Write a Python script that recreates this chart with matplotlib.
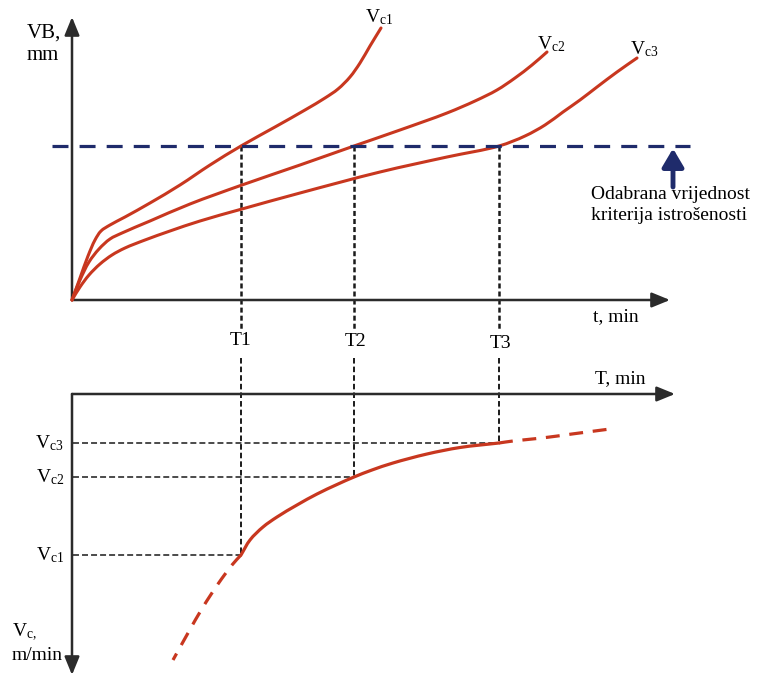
import matplotlib
matplotlib.use('Agg')
import matplotlib.pyplot as plt
import numpy as np
from matplotlib.path import Path
from matplotlib.patches import PathPatch

plt.rcParams['font.family'] = ['Liberation Serif', 'DejaVu Serif']
plt.rcParams['mathtext.fontset'] = 'custom'
plt.rcParams['mathtext.rm'] = 'Liberation Serif'
plt.rcParams['mathtext.it'] = 'Liberation Serif:italic'
plt.rcParams['lines.scale_dashes'] = False

# ---------------- data ----------------
# top: tool wear VB (mm) vs time t (min) for three cutting speeds
vc1_t = [0, 0.8, 1.6, 2.3, 2.9, 3.8, 5.3, 7.8, 10.8, 13.8, 16.9, 20.3, 23.3,
         25.3, 26.6, 27.8, 28.8, 29.8, 30.9]
vc1_vb = [0, 0.044, 0.088, 0.12, 0.138, 0.15, 0.166, 0.194, 0.23, 0.27, 0.308,
          0.346, 0.38, 0.404, 0.422, 0.446, 0.474, 0.508, 0.544]
vc2_t = [0, 0.8, 1.7, 2.7, 3.8, 5.0, 7.8, 11.8, 17.0, 22.8, 28.2, 32.8, 37.5,
         40.3, 42.5, 44.3, 46.0, 47.5]
vc2_vb = [0, 0.04, 0.076, 0.102, 0.122, 0.134, 0.158, 0.192, 0.23, 0.27, 0.308,
          0.34, 0.374, 0.398, 0.42, 0.444, 0.47, 0.496]
vc3_t = [0, 0.8, 1.7, 2.8, 4.0, 5.3, 7.3, 9.8, 12.8, 17.0, 22.8, 30.8, 37.5,
         42.7, 45.3, 47.3, 49.1, 50.8, 52.5, 54.5, 56.5]
vc3_vb = [0, 0.026, 0.05, 0.072, 0.09, 0.104, 0.12, 0.138, 0.158, 0.182, 0.214,
          0.256, 0.286, 0.308, 0.328, 0.35, 0.376, 0.4, 0.426, 0.456, 0.484]
curve_labels = [r'$\mathrm{V}_{\mathrm{c1}}$', r'$\mathrm{V}_{\mathrm{c2}}$',
                r'$\mathrm{V}_{\mathrm{c3}}$']

VB_crit = 0.308                 # chosen wear criterion
T_life = [16.9, 28.2, 42.7]     # T1, T2, T3
T_labels = ['T1', 'T2', 'T3']
Vc_vals = [161, 83, 49]         # Vc1, Vc2, Vc3

# bottom: Vc vs T
life_T = [16.9, 17.8, 19.1, 20.5, 22.5, 24.5, 26.5, 28.2, 30.0, 32.1, 35.5,
          38.8, 42.7]
life_Vc = [161, 146, 133, 123, 111, 100, 90.5, 83, 76, 69, 60, 53.5, 49]
ext_hi_T = [42.7, 44.1, 47.0, 50.0, 53.8]
ext_hi_Vc = [49, 47, 44, 40, 35]
ext_lo_T = [16.9, 16.0, 14.6, 13.1, 11.6, 10.1]
ext_lo_Vc = [161, 171, 190, 213, 239, 266]

# ---------------- styles ----------------
RED = '#c8371f'
BLUE = '#1f2b6b'
AX = '#2b2b2b'
W, H = 764, 677
FS = 14

fig = plt.figure(figsize=(W / 100, H / 100), dpi=100)


def fx(px):
    return px / W


def fy(py):
    return 1 - py / H


def smooth_path(ax, xs, ys, alpha=0.5):
    """Centripetal Catmull-Rom curve through the data points (built in
    display space, returned as a Bezier path in data coordinates)."""
    p = ax.transData.transform(np.column_stack([xs, ys]).astype(float))
    ext = np.vstack([2 * p[0] - p[1], p, 2 * p[-1] - p[-2]])
    verts = [p[0]]
    codes = [Path.MOVETO]
    for i in range(1, len(ext) - 2):
        p0, p1, p2, p3 = ext[i - 1], ext[i], ext[i + 1], ext[i + 2]
        d1 = max(np.hypot(*(p1 - p0)), 1e-6) ** alpha
        d2 = max(np.hypot(*(p2 - p1)), 1e-6) ** alpha
        d3 = max(np.hypot(*(p3 - p2)), 1e-6) ** alpha
        b1 = (d1 ** 2 * p2 - d2 ** 2 * p0 +
              (2 * d1 ** 2 + 3 * d1 * d2 + d2 ** 2) * p1) / (3 * d1 * (d1 + d2))
        b2 = (d3 ** 2 * p1 - d2 ** 2 * p3 +
              (2 * d3 ** 2 + 3 * d3 * d2 + d2 ** 2) * p2) / (3 * d3 * (d3 + d2))
        verts += [b1, b2, p2]
        codes += [Path.CURVE4] * 3
    back = ax.transData.inverted().transform(np.array(verts))
    return Path(back, codes)


def draw_curve(ax, xs, ys, dashes=None, lw=2.3):
    patch = PathPatch(smooth_path(ax, xs, ys), fill=False, edgecolor=RED,
                      lw=lw, capstyle='round', joinstyle='round', zorder=3,
                      clip_on=False)
    if dashes is not None:
        patch.set_linestyle((0, dashes))
        patch.set_capstyle('butt')
    ax.add_patch(patch)


axis_arrow = dict(arrowstyle='-|>,head_length=1.1,head_width=0.45', color=AX,
                  lw=1.8, shrinkA=0, shrinkB=0, mutation_scale=10)

# ---------------- top panel ----------------
ax1 = fig.add_axes([fx(72), fy(300), (670 - 72) / W, (300 - 17) / H])
ax1.set_xlim(0, 59.8)
ax1.set_ylim(0, 0.566)
ax1.axis('off')

ax1.annotate('', xy=(1, 0), xytext=(0, 0), xycoords='axes fraction',
             textcoords='axes fraction', arrowprops=axis_arrow)
ax1.annotate('', xy=(0, 1), xytext=(0, 0), xycoords='axes fraction',
             textcoords='axes fraction', arrowprops=axis_arrow)

for tt, vv in [(vc1_t, vc1_vb), (vc2_t, vc2_vb), (vc3_t, vc3_vb)]:
    draw_curve(ax1, tt, vv, lw=2.2)

ax1.plot([-2, 61.8], [VB_crit, VB_crit], color=BLUE, lw=2.3,
         dashes=(11.5, 8), clip_on=False, zorder=4)
for T in T_life:
    ax1.plot([T, T], [VB_crit, -0.06], color='#1a1a1a', lw=1.8,
             dashes=(3.6, 2.2), clip_on=False, zorder=2)

ax1.annotate('', xy=(60.1, 0.303), xytext=(60.1, 0.226),
             arrowprops=dict(arrowstyle='-|>,head_length=1.1,head_width=0.65',
                             color=BLUE, lw=3.5, shrinkA=0, shrinkB=0,
                             mutation_scale=10), annotation_clip=False)

# curve labels
for lab, (px, py) in zip(curve_labels, [(365, 17), (537, 44), (630, 49)]):
    fig.text(fx(px), fy(py), lab, fontsize=FS, ha='left', va='center')

fig.text(fx(27), fy(33), 'VB,', fontsize=15, ha='left', va='center')
fig.text(fx(27), fy(55), 'mm', fontsize=15, ha='left', va='center')
fig.text(fx(593), fy(317), 't, min', fontsize=FS, ha='left', va='center')
fig.text(fx(591), fy(195), 'Odabrana vrijednost', fontsize=FS, ha='left',
         va='center')
fig.text(fx(591), fy(216), 'kriterija istrošenosti', fontsize=FS, ha='left',
         va='center')

for lab, px, py in zip(T_labels, [241, 356, 501], [340, 341, 343]):
    fig.text(fx(px), fy(py), lab, fontsize=FS, ha='center', va='center')

# ---------------- bottom panel ----------------
ax2 = fig.add_axes([fx(72), fy(675), (675 - 72) / W, (675 - 394) / H])
ax2.set_xlim(0, 60.3)
ax2.set_ylim(281, 0)
ax2.axis('off')

ax2.annotate('', xy=(1, 1), xytext=(0, 1), xycoords='axes fraction',
             textcoords='axes fraction', arrowprops=axis_arrow)
ax2.annotate('', xy=(0, 0), xytext=(0, 1), xycoords='axes fraction',
             textcoords='axes fraction', arrowprops=axis_arrow)

for T, V in zip(T_life, Vc_vals):
    ax2.plot([T, T], [-36, V], color='#1a1a1a', lw=1.4, dashes=(4.0, 2.2),
             clip_on=False, zorder=2)
    ax2.plot([0.1, T], [V, V], color='#1a1a1a', lw=1.1, dashes=(4.3, 2.2),
             clip_on=False, zorder=2)

draw_curve(ax2, life_T, life_Vc)
draw_curve(ax2, ext_hi_T, ext_hi_Vc, dashes=(10, 7))
draw_curve(ax2, ext_lo_T, ext_lo_Vc, dashes=(10, 7))

fig.text(fx(595), fy(379), 'T, min', fontsize=FS, ha='left', va='center')
for V, lab in zip(Vc_vals, curve_labels):
    fig.text(fx(64), fy(394 + V), lab, fontsize=FS, ha='right', va='center')
fig.text(fx(12), fy(632), r'$\mathrm{V}_{\mathrm{c,}}$', fontsize=FS,
         ha='left', va='center')
fig.text(fx(12), fy(656), 'm/min', fontsize=FS, ha='left', va='center')

fig.savefig('out.png', dpi=100)
